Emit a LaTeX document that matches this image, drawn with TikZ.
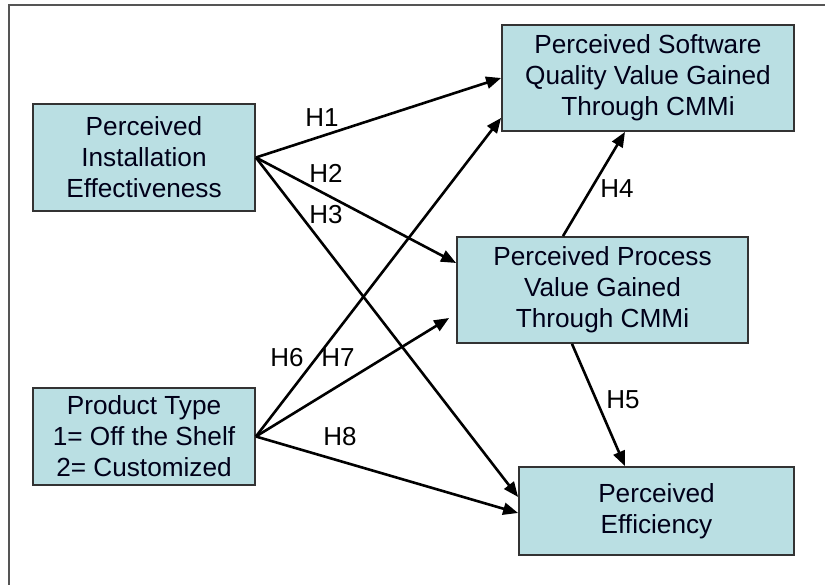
\documentclass[tikz,border=0pt]{standalone}
\usepackage{fontspec}
\setmainfont{Liberation Sans}
\usetikzlibrary{arrows.meta}
\definecolor{boxfill}{HTML}{BADFE3}
\definecolor{boxline}{HTML}{333333}
\definecolor{framecol}{HTML}{555555}
\tikzset{
  varbox/.style={draw=boxline, line width=1.8pt, fill=boxfill, inner sep=0pt,
    align=center, font=\fontsize{26.2}{31}\selectfont, text=black!90!blue},
  hlabel/.style={font=\fontsize{26}{30}\selectfont, inner sep=0pt, text=black},
  conn/.style={line width=2.6pt, -{Triangle[length=15pt,width=12pt]}}
}
\begin{document}
\begin{tikzpicture}[x=1pt,y=-1pt]
\useasboundingbox (0,0) rectangle (825,585);
\draw[framecol, line width=2pt] (8.5,590) -- (8.5,5) -- (830,5);

\node[varbox, minimum width=222pt, minimum height=107pt] (pie) at (144,157.5)
  {Perceived\\Installation\\Effectiveness};
\node[varbox, minimum width=222pt, minimum height=97pt] (pt) at (144,436.5)
  {Product Type\\1= Off the Shelf\\2= Customized};
\node[varbox, minimum width=292pt, minimum height=106pt] (psq) at (648,78)
  {Perceived Software\\Quality Value Gained\\Through CMMi};
\node[varbox, minimum width=291pt, minimum height=106pt] (ppv) at (602.5,290)
  {Perceived Process\\Value Gained\\Through CMMi};
\node[varbox, minimum width=275pt, minimum height=88pt] (pe) at (656.5,511)
  {Perceived\\Efficiency};

\draw[conn] (pie.east) -- (psq.west);
\draw[conn] (pie.east) -- ([yshift=27pt]ppv.west);
\draw[conn] (pie.east) -- ([yshift=14pt]pe.west);
\draw[conn] ([xshift=-39.5pt]ppv.north) -- ([xshift=-23pt]psq.south);
\draw[conn] ([xshift=-30.5pt]ppv.south) -- ([xshift=-31.5pt]pe.north);
\draw[conn] (pt.east) -- ([yshift=14pt]psq.south west);
\draw[conn] (pt.east) -- ([xshift=-7pt,yshift=-28pt]ppv.west);
\draw[conn] (pt.east) -- ([yshift=-2pt]pe.west);

\node[hlabel] (h1) at (322,118) {H1};
\node[hlabel] (h2) at (326,173) {H2};
\node[hlabel] (h3) at (326,215) {H3};
\node[hlabel] (h4) at (617,189) {H4};
\node[hlabel] (h5) at (623,400) {H5};
\node[hlabel] (h6) at (287,358) {H6};
\node[hlabel] (h7) at (338,358) {H7};
\node[hlabel] (h8) at (340,437) {H8};
\end{tikzpicture}
\end{document}
